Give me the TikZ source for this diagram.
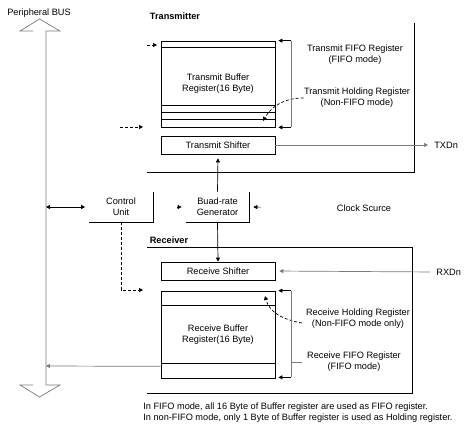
\documentclass[tikz,border=0pt]{standalone}
\usepackage{fontspec}
\setmainfont{Liberation Sans}
\usetikzlibrary{arrows.meta,calc}

\begin{document}
\begin{tikzpicture}[x=1pt,y=-1pt,line width=0.7pt,
    font=\fontsize{9.2}{11}\selectfont,
    >={Triangle[length=4pt,width=4pt]},
    regbox/.style={draw,minimum width=\bw,minimum height=#1,inner sep=0pt,align=center},
    regbox/.default=18,
    txt/.style={inner sep=0pt,align=center},
    unitbox/.style={minimum width=63,minimum height=30,inner sep=0pt,align=center},
    dsh/.style={dash pattern=on 3pt off 2pt}]
    \definecolor{linegray}{HTML}{7A7A7A}
    \def\bw{114}
    \useasboundingbox (0,0) rectangle (473,433);
    % bus
    \draw[linegray] (33,31) -- (20,31) -- (39.5,19) -- (60,31) -- (46,31) -- (46,385)
        -- (60,385) -- (39.5,397) -- (20,385) -- (33,385);
    \node[txt] (buslabel) at (39,13) {Peripheral BUS};
    % transmitter
    \node[txt,font=\fontsize{9.2}{11}\selectfont\bfseries] (txlabel) at (175,16) {Transmitter};
    \draw (414,23) -- (414,172) -- (147,172);
    \node[regbox=86] (txbuf) at (218,84) {Transmit Buffer\\Register(16 Byte)};
    \foreach \d in {7} \draw ($(txbuf.north west)+(0,\d)$) -- ($(txbuf.north east)+(0,\d)$);
    \foreach \d in {22,15,8} \draw ($(txbuf.south west)+(0,-\d)$) -- ($(txbuf.south east)+(0,-\d)$);
    \node[regbox] (txshift) at (218,145) {Transmit Shifter};
    \node[txt,anchor=west] (txd) at (434,145) {TXDn};
    \node[txt] (txfifo) at (355,55) {Transmit FIFO Register\\(FIFO mode)};
    \node[txt] (txhold) at (357,98) {Transmit Holding Register\\(Non-FIFO mode)};
    % middle row
    \node[unitbox] (ctrl) at (121,207) {Control\\Unit};
    \node[unitbox] (baud) at (217.5,207) {Buad-rate\\Generator};
    \foreach \x in {ctrl,baud} \draw (\x.north east) -- (\x.south east) -- (\x.south west);
    \node[txt] (clk) at (364,208) {Clock Scurce};
    % receiver
    \node[txt,font=\fontsize{9.2}{11}\selectfont\bfseries] (rxlabel) at (169,240) {Receiver};
    \draw (147,247) -- (412,247) -- (412,393) -- (147,393);
    \node[regbox] (rxshift) at (218,271) {Receive Shifter};
    \node[txt,anchor=west] (rxd) at (436,272) {RXDn};
    \node[regbox=87] (rxbuf) at (218,334.5) {Receive Buffer\\Register(16 Byte)};
    \foreach \d in {15} \draw ($(rxbuf.north west)+(0,\d)$) -- ($(rxbuf.north east)+(0,\d)$);
    \foreach \d in {15} \draw ($(rxbuf.south west)+(0,-\d)$) -- ($(rxbuf.south east)+(0,-\d)$);
    \node[txt] (rxhold) at (358,318.5) {Receive Holding Register\\(Non-FIFO mode only)};
    \node[txt] (rxfifo) at (354,362) {Receive FIFO Register\\(FIFO mode)};
    \node[txt,anchor=north west,align=left] (note) at (143,402)
        {In FIFO mode, all 16 Byte of Buffer register are used as FIFO register.\\
         In non-FIFO mode, only 1 Byte of Buffer register is used as Holding register.};
    % coordinates
    \path (46,207) coordinate (busctl) (46,366) coordinate (busrx)
          (147,45) coordinate (txin1) (120,127) coordinate (txin2)
          (157,45) coordinate (txtip1) (143,127) coordinate (txtip2)
          (143,290) coordinate (rxtip) (263,121) coordinate (txhtip)
          (302,323) coordinate (rxhs) (265,296) coordinate (rxhtip);
    \path ($(txbuf.north east)+(16,0)$) coordinate (txbt) ($(txbuf.south east)+(16,0)$) coordinate (txbb);
    \path ($(rxbuf.north east)+(16,0)$) coordinate (rxbt) ($(rxbuf.south east)+(16,-1)$) coordinate (rxbb);
    \path ($(rxbuf.south west)+(0,-12)$) coordinate (rxout);
    % connectors
    \draw[<->,shorten >=4pt] (busctl) -- (ctrl.west);
    \draw[->,shorten <=24pt,shorten >=4pt] (ctrl.east) -- (baud.west);
    \draw[->,shorten <=76pt,shorten >=4pt] (clk.west) -- (baud.east);
    \draw[->,shorten >=4pt] (baud.north) -- (txshift.south);
    \draw[->] (baud.south) -- (rxshift.north);
    \draw[->,linegray] (txshift.east) -- (txd.west) [shorten >=6pt];
    \draw[->,linegray,shorten <=6pt,shorten >=4pt] (rxd.west) -- (rxshift.east);
    \draw[->,linegray] (rxout) -- (busrx);
    \draw[->,dsh] (txin1) -- (txtip1);
    \draw[->,dsh] (txin2) -- (txtip2);
    \draw[->,dsh] (ctrl.south) |- (rxtip);
    \draw[->,dsh] (txhold.west) to[out=180,in=60] (txhtip);
    \draw[->,dsh] (rxhs) to[out=170,in=-75] (rxhtip);
    \draw[linegray] (txbt) -- (txbb);
    \draw[->,shorten >=3pt] (txbt) -- (txbuf.north east);
    \draw[->,shorten >=3pt] (txbb) -- (txbuf.south east);
    \draw[linegray] (rxbt) -- (rxbb);
    \draw[->,shorten >=3pt] (rxbt) -- (rxbuf.north east);
    \draw[->,shorten >=3pt] (rxbb) -- ($(rxbuf.south east)+(0,-1)$);
    \draw[linegray] (rxbuf.east -| rxbt) ++(0,27.5) -- ++(11,0);
\end{tikzpicture}
\end{document}
